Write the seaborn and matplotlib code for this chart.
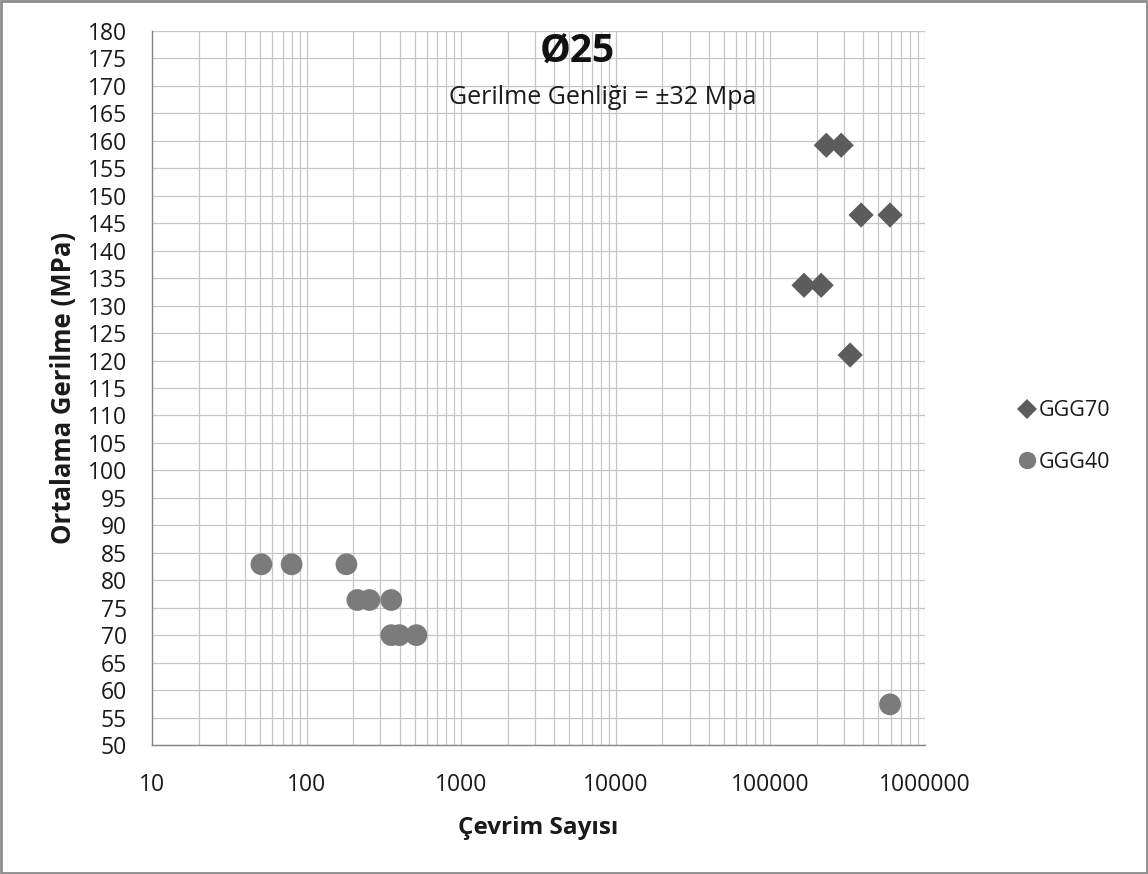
import numpy as np
import pandas as pd
import matplotlib
matplotlib.use("Agg")
import matplotlib.pyplot as plt
import seaborn as sns
from matplotlib.ticker import FixedLocator, FuncFormatter, LogLocator, NullFormatter
from matplotlib.patches import Rectangle

# Fatigue test results: cycles to failure vs. mean stress
ggg70_cycles = [230000, 287000, 386000, 594000, 165000, 213000, 328000]
ggg70_stress = [159.2, 159.2, 146.5, 146.5, 133.7, 133.7, 121.0]

ggg40_cycles = [51, 80, 181, 213, 255, 353, 353, 398, 513, 594000]
ggg40_stress = [82.9, 82.9, 82.9, 76.4, 76.4, 76.4, 70.0, 70.0, 70.0, 57.4]

series_names = ["GGG70", "GGG40"]
x_tick_values = [10, 100, 1000, 10000, 100000, 1000000]
y_tick_values = list(range(50, 181, 5))

df = pd.DataFrame({
    "Çevrim": ggg70_cycles + ggg40_cycles,
    "Gerilme": ggg70_stress + ggg40_stress,
    "Malzeme": [series_names[0]] * len(ggg70_cycles) + [series_names[1]] * len(ggg40_cycles),
})

sns.set_theme(style="white")
plt.rcParams["font.family"] = ["Open Sans", "DejaVu Sans"]

fig = plt.figure(figsize=(11.48, 8.74), dpi=100)
ax = fig.add_axes([152 / 1148, 1 - 745 / 874, (925 - 152) / 1148, (745 - 31) / 874])

ax.set_xscale("log")
ax.set_xlim(10, 1e6)
ax.set_ylim(50, 180)

grid_col = "#c6c6c6"
axis_col = "#868686"
text_col = "#1a1a1a"

# grid: minor + major verticals, horizontals every 5 MPa
ax.xaxis.set_major_locator(FixedLocator(x_tick_values))
ax.xaxis.set_minor_locator(LogLocator(base=10, subs=np.arange(2, 10)))
ax.xaxis.set_minor_formatter(NullFormatter())
ax.xaxis.set_major_formatter(FuncFormatter(lambda v, p: f"{int(round(v))}"))
ax.yaxis.set_major_locator(FixedLocator(y_tick_values))
ax.grid(True, which="major", axis="both", color=grid_col, lw=0.9, zorder=0)
ax.grid(True, which="minor", axis="x", color=grid_col, lw=0.9, zorder=0)
ax.set_axisbelow(True)

sns.scatterplot(
    data=df, x="Çevrim", y="Gerilme",
    hue="Malzeme", style="Malzeme", size="Malzeme",
    hue_order=series_names, style_order=series_names, size_order=series_names,
    palette={"GGG70": "#5c5c5c", "GGG40": "#7b7b7b"},
    markers={"GGG70": "D", "GGG40": "o"},
    sizes={"GGG70": 165, "GGG40": 245},
    linewidth=0, ax=ax, zorder=3, legend=True,
)

for side in ["top", "right"]:
    ax.spines[side].set_visible(False)
for side in ["left", "bottom"]:
    ax.spines[side].set_color(axis_col)
    ax.spines[side].set_linewidth(1.0)

ax.tick_params(axis="both", which="major", direction="out", length=7, width=1,
               color=axis_col, labelsize=16.5, labelcolor=text_col)
ax.tick_params(axis="x", which="minor", length=0)
ax.tick_params(axis="x", which="major", pad=13)
ax.tick_params(axis="y", which="major", pad=11)

ax.set_xlabel("Çevrim Sayısı", fontsize=17.5, fontweight="bold", color=text_col, labelpad=14)
ax.set_ylabel("Ortalama Gerilme (MPa)", fontsize=18.5, fontweight="bold", color=text_col, labelpad=8)

# legend at the right side
leg = ax.legend(loc="center left", bbox_to_anchor=(1.093, 0.432), frameon=False,
                fontsize=15.5, handletextpad=0.05, labelspacing=1.4, markerscale=0.8,
                handlelength=1.0)
for t in leg.get_texts():
    t.set_color(text_col)

fig.text(577 / 1148, 1 - 51 / 874, "Ø25", ha="center", va="center",
         fontsize=28, fontweight="bold", color="#111111")
fig.text(603 / 1148, 1 - 97 / 874, "Gerilme Genliği = ±32 Mpa", ha="center", va="center",
         fontsize=18, color=text_col)

# outer frame
fig.patches.append(Rectangle((0.001, 0.001), 0.998, 0.998, transform=fig.transFigure,
                             fill=False, edgecolor="#8c8c8c", lw=2))

fig.savefig("out.png", dpi=100, facecolor="white")
